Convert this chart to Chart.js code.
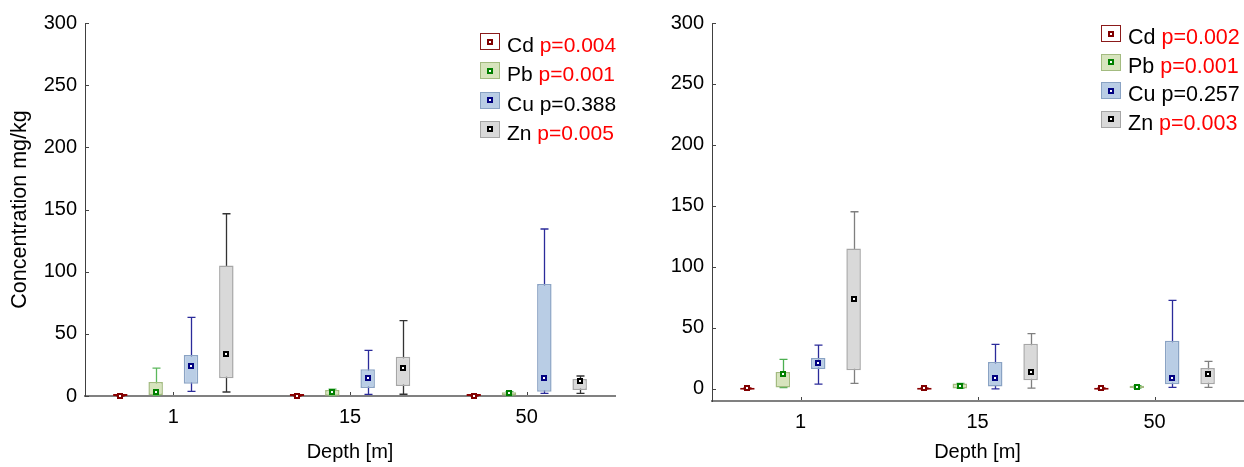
<!DOCTYPE html>
<html lang="en">
<head>
<meta charset="UTF-8" />
<title>Concentration by depth</title>
<script src="https://cdn.jsdelivr.net/npm/chart.js"></script>
<style>
  body { margin: 0; background: #fff; font-family: "Liberation Sans", Arial, sans-serif; }
  #wrap { position: relative; width: 1244px; height: 467px; overflow: hidden; }
  .panel { position: absolute; top: 0; width: 622px; height: 467px; }
  .legend { position: absolute; line-height: 24px; color: #000; }
  .legend .row { position: relative; padding-left: 27px; white-space: nowrap; }
  .legend .swatch { position: absolute; left: 0; top: 0; width: 18px; height: 15px; border: 1px solid; }
  .legend .swatch i { position: absolute; left: 50%; top: 50%; width: 2px; height: 2px; margin: -3px 0 0 -3px; border: 2px solid; background: #fff; }
  .legend .sig { color: #ff0000; }
</style>
</head>
<body>
<div id="wrap">
  <div class="panel" style="left:0"><canvas id="leftChart" width="622" height="467"></canvas></div>
  <div class="panel" style="left:622px"><canvas id="rightChart" width="622" height="467"></canvas></div>
  <div class="legend" id="leftLegend" style="left:480px; top:33px; font-size:21px"></div>
  <div class="legend" id="rightLegend" style="left:1101px; top:25px; font-size:21.5px"></div>
</div>

<script>
  const categories = ['1', '15', '50'];
  const metals = ['Cd', 'Pb', 'Cu', 'Zn'];
  const yTickValues = [0, 50, 100, 150, 200, 250, 300];

  // each entry: [min, q1, median, q3, max] for depth 1, 15, 50
  const cdLeft = [[0, 0, 0.3, 0.6, 0.9], [0, 0, 0.3, 0.5, 0.8], [0, 0, 0.3, 0.5, 0.8]];
  const pbLeft = [[0.5, 0.8, 3.5, 11.3, 22.5], [0.3, 0.3, 3.5, 4.8, 5.5], [0.3, 0.5, 2.1, 3.0, 3.5]];
  const cuLeft = [[3.7, 9.9, 24.4, 33, 63.3], [1.3, 6.4, 14.8, 21.5, 36.7], [2.1, 3.5, 14.8, 90, 134.3]];
  const znLeft = [[3.2, 14.2, 34, 105, 146.6], [1.4, 8, 22.8, 31.6, 60.6], [2.1, 4.8, 11.8, 13.7, 16.1]];

  const cdRight = [[0, 0, 0.3, 0.5, 0.8], [0, 0, 0.3, 0.5, 0.8], [0, 0, 0.3, 0.5, 0.8]];
  const pbRight = [[1, 1.1, 11.8, 13.7, 24.1], [0.3, 0.3, 2.2, 4.4, 4.4], [0.5, 0.7, 1.6, 2.5, 2.5]];
  const cuRight = [[3.8, 16.2, 21.4, 25.2, 35.9], [0, 1.9, 8.5, 21.9, 36.4], [1.1, 3.8, 8.5, 39.5, 72.6]];
  const znRight = [[4.4, 15.3, 74, 115, 145.2], [0.5, 7.1, 13.4, 37, 45.2], [1.1, 3.8, 11.8, 17, 22.5]];

  const pLeft = ['0.004', '0.001', '0.388', '0.005'];
  const pRight = ['0.002', '0.001', '0.257', '0.003'];

  // colours per metal
  const boxFill = ['#ffffff', '#d7e4bd', '#b9cde5', '#d9d9d9'];
  const boxBorder = ['#8b1a1a', '#a3bb80', '#8aa3c4', '#a6a6a6'];
  const markerColor = ['#800000', '#008000', '#000080', '#000000'];
  const whiskerLeft = ['#8b0000', '#5cb85c', '#2b2b9a', '#333333'];
  const whiskerRight = ['#8b0000', '#4caf50', '#2b2b9a', '#7f7f7f'];

  // whiskers behind the boxes, median markers and small inner ticks on top
  const boxPlotParts = {
    id: 'boxPlotParts',
    beforeDatasetsDraw(chart) {
      const ctx = chart.ctx, y = chart.scales.y;
      chart.data.datasets.forEach((ds, di) => {
        chart.getDatasetMeta(di).data.forEach((bar, i) => {
          const s = ds.stats[i];
          const x = Math.round(bar.x) + 0.5;
          const top = y.getPixelForValue(s[4]);
          const bot = y.getPixelForValue(s[0]);
          ctx.save();
          ctx.strokeStyle = ds.whiskerColor;
          ctx.lineWidth = 1.3;
          ctx.beginPath();
          ctx.moveTo(x, top); ctx.lineTo(x, bot);
          ctx.moveTo(x - 4, top); ctx.lineTo(x + 4, top);
          ctx.moveTo(x - 4, bot); ctx.lineTo(x + 4, bot);
          ctx.stroke();
          ctx.restore();
        });
      });
    },
    afterDatasetsDraw(chart) {
      const ctx = chart.ctx, y = chart.scales.y, xs = chart.scales.x;
      const area = chart.chartArea;
      chart.data.datasets.forEach((ds, di) => {
        chart.getDatasetMeta(di).data.forEach((bar, i) => {
          const x = Math.round(bar.x);
          const ym = Math.round(y.getPixelForValue(ds.stats[i][2]));
          ctx.fillStyle = ds.markerColor;
          ctx.fillRect(x - 3, ym - 3, 6, 6);
          ctx.fillStyle = '#ffffff';
          ctx.fillRect(x - 1, ym - 1, 2, 2);
        });
      });
      ctx.save();
      ctx.strokeStyle = '#444';
      ctx.lineWidth = 1;
      ctx.beginPath();
      y.ticks.forEach(t => {
        const py = Math.round(y.getPixelForValue(t.value)) + 0.5;
        ctx.moveTo(area.left, py); ctx.lineTo(area.left + 4, py);
      });
      categories.forEach((c, i) => {
        const px = Math.round(xs.getPixelForValue(i)) + 0.5;
        ctx.moveTo(px, area.bottom - 1); ctx.lineTo(px, area.bottom - 4);
      });
      ctx.stroke();
      ctx.restore();
    }
  };

  function makeDatasets(statsList, whiskers) {
    return statsList.map((stats, m) => ({
      label: metals[m],
      data: stats.map(s => [s[1], s[3]]),
      stats: stats,
      whiskerColor: whiskers[m],
      markerColor: markerColor[m],
      backgroundColor: boxFill[m],
      borderColor: m === 0 ? whiskers[0] : boxBorder[m],
      borderWidth: 1.5,
      borderSkipped: false,
      minBarLength: 2,
      categoryPercentage: 0.8,
      barPercentage: 0.41
    }));
  }

  function makeChart(id, statsList, whiskers, opts) {
    const font = { family: '"Liberation Sans", Arial, sans-serif', size: 20 };
    const titleFont = { family: '"Liberation Sans", Arial, sans-serif', size: 21.5 };
    return new Chart(document.getElementById(id), {
      type: 'bar',
      data: { labels: categories, datasets: makeDatasets(statsList, whiskers) },
      plugins: [boxPlotParts],
      options: {
        responsive: false,
        animation: false,
        layout: { padding: { top: 23, right: opts.rightPad, bottom: 0, left: 0 } },
        plugins: { legend: { display: false }, tooltip: { enabled: false } },
        scales: {
          x: {
            offset: true,
            grid: { display: false, drawTicks: false },
            border: { display: true, color: '#808080', width: 2 },
            ticks: { color: '#000', font: font, padding: 9 },
            title: { display: true, text: 'Depth [m]', color: '#000', font: font, padding: { top: 0, bottom: 3 } },
            afterFit(s) { s.height = opts.xHeight; }
          },
          y: {
            min: opts.yMin,
            max: 300,
            grid: { display: false, drawTicks: false },
            border: { display: true, color: '#404040', width: 1 },
            ticks: { color: '#000', font: font, padding: 8 },
            afterBuildTicks(s) { s.ticks = yTickValues.map(v => ({ value: v })); },
            title: { display: opts.yTitle, text: 'Concentration mg/kg', color: '#000', font: titleFont, padding: { top: 7, bottom: 0 } },
            afterFit(s) { s.width = opts.yWidth; }
          }
        }
      }
    });
  }

  function makeLegend(id, pValues, rowHeight) {
    const el = document.getElementById(id);
    metals.forEach((m, i) => {
      const row = document.createElement('div');
      row.className = 'row';
      row.style.height = rowHeight + 'px';
      const sig = parseFloat(pValues[i]) < 0.05;
      row.innerHTML =
        '<span class="swatch" style="background:' + boxFill[i] + ';border-color:' + boxBorder[i] + '">' +
        '<i style="border-color:' + markerColor[i] + '"></i></span>' +
        m + ' <span class="' + (sig ? 'sig' : '') + '">p=' + pValues[i] + '</span>';
      el.appendChild(row);
    });
  }

  makeChart('leftChart', [cdLeft, pbLeft, cuLeft, znLeft], whiskerLeft,
    { yMin: 0, xHeight: 71, yWidth: 85, rightPad: 7, yTitle: true });
  makeChart('rightChart', [cdRight, pbRight, cuRight, znRight], whiskerRight,
    { yMin: -10, xHeight: 66, yWidth: 90, rightPad: 1, yTitle: false });

  makeLegend('leftLegend', pLeft, 29.3);
  makeLegend('rightLegend', pRight, 28.5);
</script>
</body>
</html>
